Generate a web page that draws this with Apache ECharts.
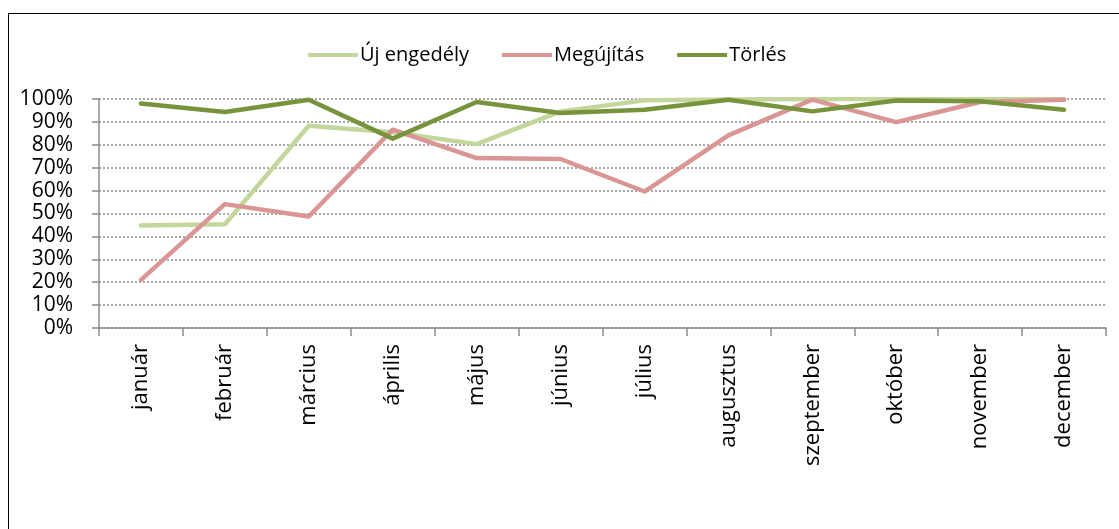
<!DOCTYPE html>
<html>
<head>
<meta charset="utf-8">
<script src="https://cdn.jsdelivr.net/npm/echarts@6/dist/echarts.min.js"></script>
<style>
  html, body { margin: 0; padding: 0; background: #fff; }
  #frame { position: absolute; left: 8px; top: 13px; width: 1120px; height: 530px; border: 1px solid #000; }
  #chart { position: absolute; left: 0; top: 0; width: 1119px; height: 529px; }
</style>
</head>
<body>
<div id="frame"></div>
<div id="chart"></div>
<script>
// hónapok
var months = ['január', 'február', 'március', 'április', 'május', 'június',
    'július', 'augusztus', 'szeptember', 'október', 'november', 'december'];
// arányok (%)
var ujEngedely = [44.8, 45.3, 88.3, 85.5, 80.3, 94.6, 99.4, 99.8, 100, 100, 100, 100];
var megujitas = [21.0, 54.1, 48.7, 86.6, 74.2, 73.8, 59.6, 84.1, 99.7, 89.9, 98.7, 99.7];
var torles = [98.0, 94.3, 99.7, 82.7, 98.7, 93.9, 95.3, 99.7, 94.6, 99.3, 99.0, 95.3];
var yTicks = [0, 10, 20, 30, 40, 50, 60, 70, 80, 90, 100];

var font = '"Open Sans", "Noto Sans", sans-serif';
var myChart = echarts.init(document.getElementById('chart'));

function line(name, data, color) {
    return {
        name: name,
        type: 'line',
        data: data,
        symbol: 'none',
        lineStyle: { color: color, width: 4.5, cap: 'round', join: 'round' },
        itemStyle: { color: color }
    };
}

var option = {
    animation: false,
    legend: {
        top: 40,
        left: 303,
        itemWidth: 50,
        itemHeight: 4,
        itemGap: 33,
        icon: 'rect',
        textStyle: { fontFamily: font, fontSize: 20, color: '#000', padding: [0, 0, 0, -3] },
        data: ['Új engedély', 'Megújítás', 'Törlés']
    },
    grid: { left: 99, right: 13, top: 99, height: 229, containLabel: false },
    xAxis: {
        type: 'category',
        data: months,
        boundaryGap: true,
        axisLine: { lineStyle: { color: '#8c8c8c', width: 1.5 } },
        axisTick: { show: true, length: 8, lineStyle: { color: '#8c8c8c', width: 1.5 } },
        axisLabel: { rotate: 90, margin: 16, fontFamily: font, fontSize: 22, color: '#000' }
    },
    yAxis: {
        type: 'value',
        min: 0,
        max: 100,
        interval: 10,
        axisLine: { show: true, lineStyle: { color: '#8c8c8c', width: 1.5 } },
        axisTick: { show: true, length: 7, lineStyle: { color: '#8c8c8c', width: 1.5 } },
        splitLine: { show: true, lineStyle: { color: '#8a8a8a', type: [2, 2], width: 1.5 } },
        axisLabel: {
            margin: 26,
            fontFamily: font,
            fontSize: 21,
            color: '#000',
            formatter: function (v) { return yTicks.indexOf(v) >= 0 ? v + '%' : ''; }
        }
    },
    series: [
        line('Új engedély', ujEngedely, '#C3D69B'),
        line('Megújítás', megujitas, '#D99694'),
        line('Törlés', torles, '#77933C')
    ]
};
myChart.setOption(option);
</script>
</body>
</html>
